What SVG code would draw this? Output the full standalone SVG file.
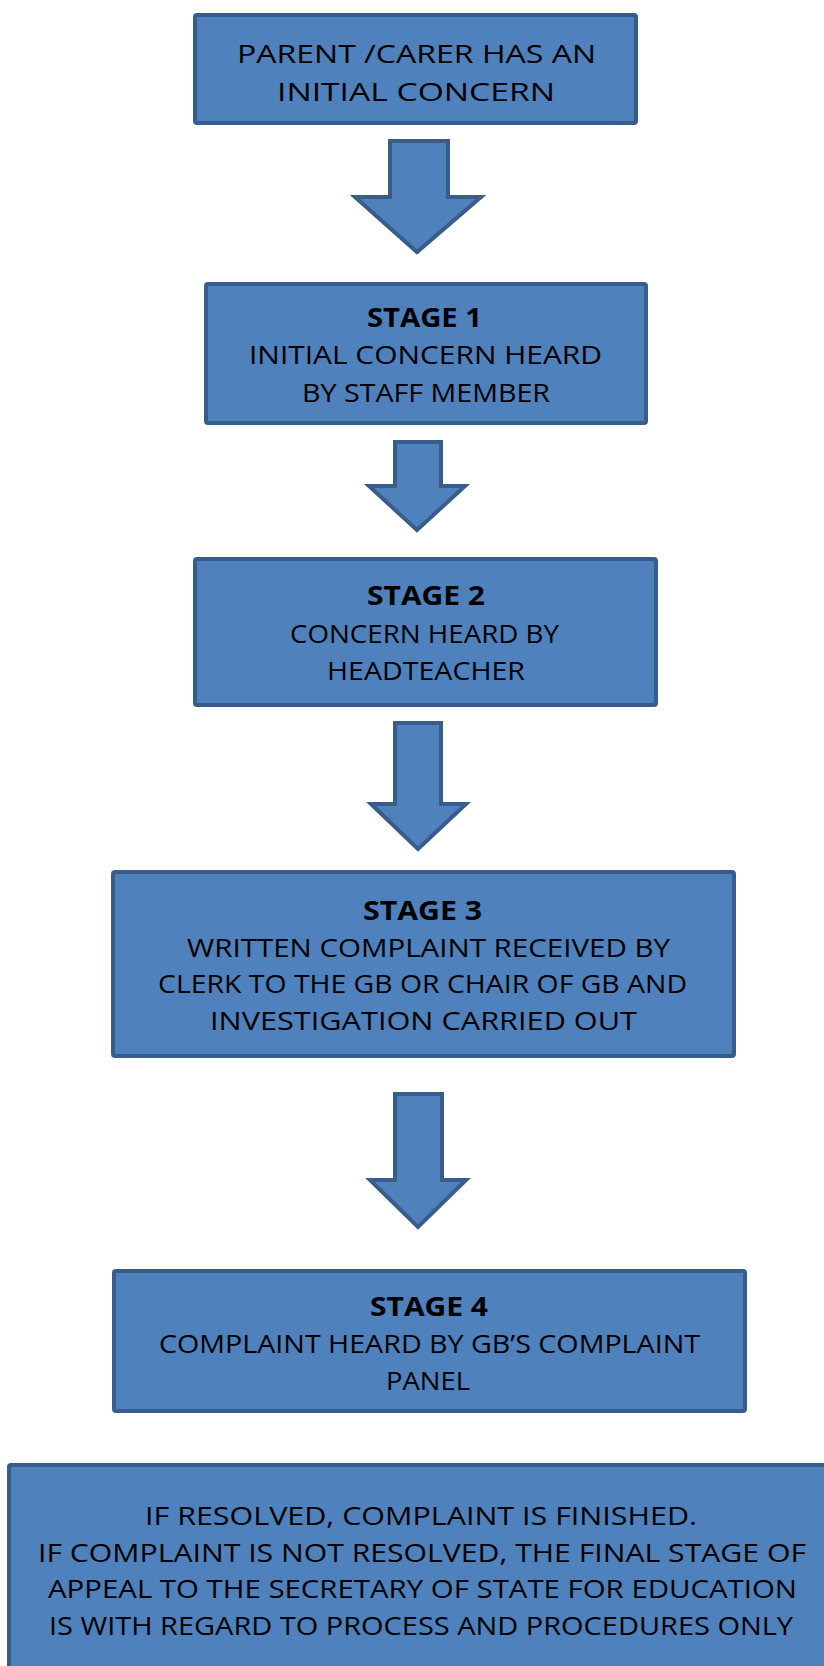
<svg xmlns="http://www.w3.org/2000/svg" width="824" height="1666" viewBox="0 0 824 1666">
<style>
.box{fill:#4F81BD;stroke:#385D8A;stroke-width:4}
.arr{fill:#4F81BD;stroke:#385D8A;stroke-width:4;stroke-linejoin:miter}
text{font-family:"Open Sans","DejaVu Sans",sans-serif;font-size:26px;fill:#000;text-anchor:middle}
.b{font-weight:700}
</style>
<rect width="824" height="1666" fill="#fff"/>
<g id="connectors">
<polygon class="arr" points="390,141 448,141 448,197 481,197 417,252 355,197 390,197"/>
<polygon class="arr" points="395,442 441,442 441,486 465,486 417,530 369,486 395,486"/>
<polygon class="arr" points="395,723 441,723 441,804 466,804 418,849 371,804 395,804"/>
<polygon class="arr" points="395,1094 442,1094 442,1180 466,1180 418,1227 370,1180 395,1180"/>
</g>
<g id="start">
<rect class="box" x="195" y="15" width="441" height="108" rx="2"/>
<text x="416.5" y="63" textLength="359" lengthAdjust="spacingAndGlyphs">PARENT /CARER HAS AN</text>
<text x="416" y="101" textLength="278" lengthAdjust="spacingAndGlyphs">INITIAL CONCERN</text>
</g>
<g id="stage1">
<rect class="box" x="206" y="284" width="440" height="139" rx="2"/>
<text class="b" x="424.5" y="327" textLength="115" lengthAdjust="spacingAndGlyphs">STAGE 1</text>
<text x="425.5" y="364" textLength="353" lengthAdjust="spacingAndGlyphs">INITIAL CONCERN HEARD</text>
<text x="426" y="402" textLength="248" lengthAdjust="spacingAndGlyphs">BY STAFF MEMBER</text>
</g>
<g id="stage2">
<rect class="box" x="195" y="559" width="461" height="146" rx="2"/>
<text class="b" x="426" y="605" textLength="118" lengthAdjust="spacingAndGlyphs">STAGE 2</text>
<text x="424.5" y="643" textLength="269" lengthAdjust="spacingAndGlyphs">CONCERN HEARD BY</text>
<text x="426" y="680" textLength="198" lengthAdjust="spacingAndGlyphs">HEADTEACHER</text>
</g>
<g id="stage3">
<rect class="box" x="113" y="872" width="621" height="184" rx="2"/>
<text class="b" x="422.5" y="920" textLength="119" lengthAdjust="spacingAndGlyphs">STAGE 3</text>
<text x="428.5" y="957" textLength="483" lengthAdjust="spacingAndGlyphs">WRITTEN COMPLAINT RECEIVED BY</text>
<text x="422.5" y="993" textLength="529" lengthAdjust="spacingAndGlyphs">CLERK TO THE GB OR CHAIR OF GB AND</text>
<text x="423.5" y="1030" textLength="427" lengthAdjust="spacingAndGlyphs">INVESTIGATION CARRIED OUT</text>
</g>
<g id="stage4">
<rect class="box" x="114" y="1271" width="631" height="140" rx="2"/>
<text class="b" x="429" y="1316" textLength="118" lengthAdjust="spacingAndGlyphs">STAGE 4</text>
<text x="429.5" y="1353" textLength="541" lengthAdjust="spacingAndGlyphs">COMPLAINT HEARD BY GB’S COMPLAINT</text>
<text x="428" y="1390" textLength="84" lengthAdjust="spacingAndGlyphs">PANEL</text>
</g>
<g id="final">
<rect class="box" x="9" y="1465" width="830" height="220" rx="2"/>
<text x="421" y="1525" textLength="552" lengthAdjust="spacingAndGlyphs">IF RESOLVED, COMPLAINT IS FINISHED.</text>
<text x="422" y="1562" textLength="768" lengthAdjust="spacingAndGlyphs">IF COMPLAINT IS NOT RESOLVED, THE FINAL STAGE OF</text>
<text x="422.5" y="1598" textLength="749" lengthAdjust="spacingAndGlyphs">APPEAL TO THE SECRETARY OF STATE FOR EDUCATION</text>
<text x="421" y="1635" textLength="744" lengthAdjust="spacingAndGlyphs">IS WITH REGARD TO PROCESS AND PROCEDURES ONLY</text>
</g>
</svg>
